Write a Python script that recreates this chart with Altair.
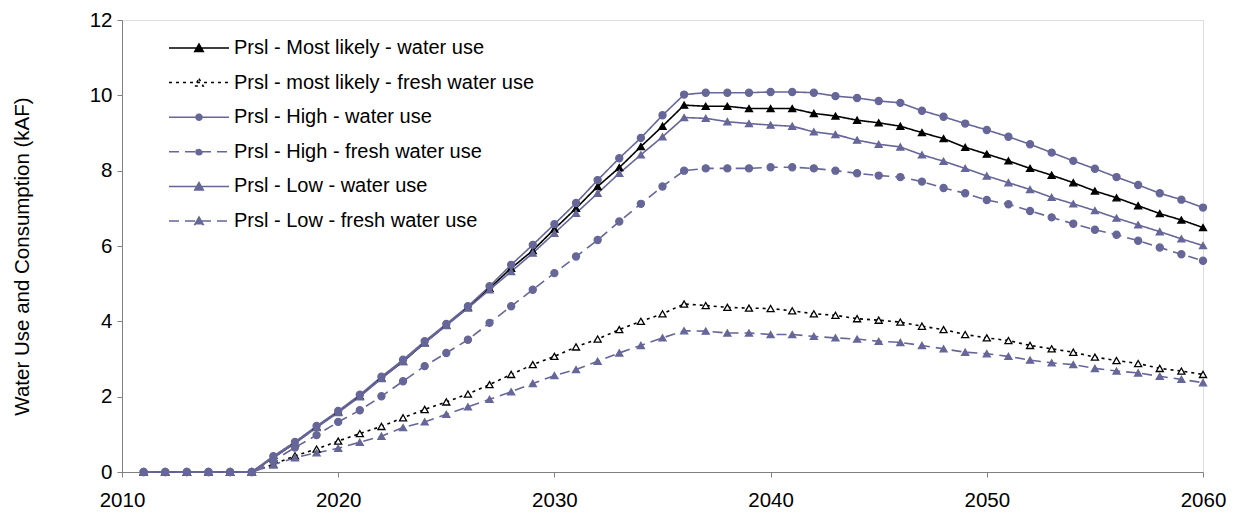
import altair as alt
import pandas as pd

years = list(range(2011, 2061))

series_names = [
    "Prsl - Most likely - water use",
    "Prsl - most likely - fresh water use",
    "Prsl - High - water use",
    "Prsl - High - fresh water use",
    "Prsl - Low - water use",
    "Prsl - Low - fresh water use",
]

ml_water = [0, 0, 0, 0, 0, 0,
            0.38, 0.77, 1.20, 1.60, 2.02, 2.50, 2.93, 3.43, 3.90, 4.37,
            4.88, 5.41, 5.88, 6.45, 7.00, 7.58, 8.08, 8.64, 9.18, 9.74,
            9.71, 9.71, 9.65, 9.65, 9.65, 9.52, 9.45, 9.34, 9.27, 9.18,
            9.01, 8.85, 8.62, 8.44, 8.26, 8.06, 7.88, 7.68, 7.46, 7.28,
            7.07, 6.86, 6.69, 6.49]
ml_fresh = [0, 0, 0, 0, 0, 0,
            0.20, 0.43, 0.61, 0.82, 1.02, 1.21, 1.44, 1.66, 1.86, 2.07,
            2.32, 2.59, 2.85, 3.07, 3.32, 3.53, 3.78, 4.00, 4.20, 4.46,
            4.42, 4.37, 4.35, 4.34, 4.28, 4.20, 4.16, 4.07, 4.03, 3.98,
            3.87, 3.78, 3.65, 3.56, 3.49, 3.36, 3.27, 3.18, 3.05, 2.96,
            2.88, 2.75, 2.68, 2.59]
high_water = [0, 0, 0, 0, 0, 0,
              0.42, 0.80, 1.22, 1.62, 2.05, 2.53, 2.98, 3.47, 3.93, 4.40,
              4.93, 5.50, 6.03, 6.58, 7.14, 7.75, 8.33, 8.87, 9.47, 10.02,
              10.07, 10.07, 10.07, 10.09, 10.09, 10.07, 9.98, 9.93, 9.85, 9.80,
              9.59, 9.43, 9.25, 9.08, 8.90, 8.70, 8.48, 8.26, 8.05, 7.83,
              7.62, 7.40, 7.23, 7.02]
high_fresh = [0, 0, 0, 0, 0, 0,
              0.30, 0.65, 0.98, 1.33, 1.64, 2.01, 2.41, 2.81, 3.16, 3.51,
              3.96, 4.40, 4.84, 5.28, 5.72, 6.16, 6.65, 7.12, 7.58, 8.00,
              8.06, 8.06, 8.06, 8.09, 8.09, 8.06, 8.00, 7.93, 7.87, 7.83,
              7.71, 7.54, 7.40, 7.22, 7.11, 6.93, 6.76, 6.59, 6.43, 6.30,
              6.14, 5.96, 5.78, 5.61]
low_water = [0, 0, 0, 0, 0, 0,
             0.38, 0.76, 1.18, 1.58, 2.00, 2.48, 2.94, 3.43, 3.89, 4.35,
             4.84, 5.32, 5.81, 6.34, 6.87, 7.40, 7.93, 8.42, 8.90, 9.41,
             9.39, 9.30, 9.25, 9.21, 9.18, 9.03, 8.96, 8.81, 8.70, 8.63,
             8.42, 8.25, 8.06, 7.86, 7.68, 7.50, 7.29, 7.12, 6.94, 6.74,
             6.56, 6.38, 6.19, 6.01]
low_fresh = [0, 0, 0, 0, 0, 0,
             0.19, 0.38, 0.51, 0.63, 0.79, 0.95, 1.18, 1.33, 1.53, 1.73,
             1.93, 2.13, 2.35, 2.56, 2.72, 2.94, 3.16, 3.36, 3.56, 3.75,
             3.74, 3.69, 3.69, 3.65, 3.65, 3.60, 3.56, 3.53, 3.47, 3.44,
             3.36, 3.27, 3.18, 3.14, 3.07, 2.97, 2.90, 2.85, 2.75, 2.68,
             2.63, 2.54, 2.46, 2.37]

x_ticks = [2010, 2020, 2030, 2040, 2050, 2060]
y_ticks = [0, 2, 4, 6, 8, 10, 12]

PURPLE = "#666699"
stroke_range = ["#000000", "#000000", PURPLE, PURPLE, PURPLE, PURPLE]
fill_range = ["#000000", "#ffffff", PURPLE, PURPLE, PURPLE, PURPLE]
dash_range = [[1, 0], [3, 4], [1, 0], [10, 6], [1, 0], [10, 6]]
shape_range = ["triangle-up", "triangle-up", "circle", "circle", "triangle-up", "triangle-up"]

TRI = "M-6,0H6M0,-0.8L0.85,0.7L-0.85,0.7Z"
CIR = "M-6,0H6M-0.6,0A0.6,0.6,0,1,0,0.6,0A0.6,0.6,0,1,0,-0.6,0Z"
legend_shapes = [TRI, TRI, CIR, CIR, TRI, TRI]

all_values = [ml_water, ml_fresh, high_water, high_fresh, low_water, low_fresh]
rows = []
for name, vals in zip(series_names, all_values):
    for yr, v in zip(years, vals):
        rows.append({"year": yr, "value": v, "series": name})
df = pd.DataFrame(rows)

FONT = "Liberation Sans"

x_enc = alt.X("year:Q",
              scale=alt.Scale(domain=[2010, 2060], nice=False, zero=False),
              axis=alt.Axis(values=x_ticks, format="d", title=None, grid=False,
                            labelFlush=False, tickSize=5, labelPadding=13,
                            labelFontSize=20.5, labelFont=FONT, labelColor="#000000",
                            domainColor="#808080", tickColor="#808080"))
y_enc = alt.Y("value:Q",
              scale=alt.Scale(domain=[0, 12], nice=False),
              axis=alt.Axis(values=y_ticks, title="Water Use and Consumption (kAF)",
                            grid=False, tickSize=5, labelPadding=5,
                            labelFontSize=20.5, labelFont=FONT, labelColor="#000000",
                            titleFontSize=20.5, titleFont=FONT, titleFontWeight="normal",
                            titleColor="#000000", titleX=-100, titleY=236,
                            titleBaseline="middle",
                            domainColor="#808080", tickColor="#808080"))

dom = series_names

lines = alt.Chart(df).mark_line(strokeWidth=1.6).encode(
    x=x_enc, y=y_enc,
    stroke=alt.Stroke("series:N", scale=alt.Scale(domain=dom, range=stroke_range), legend=None),
    strokeDash=alt.StrokeDash("series:N", scale=alt.Scale(domain=dom, range=dash_range), legend=None),
    detail="series:N",
)

points = alt.Chart(df).mark_point(filled=True, opacity=1, strokeWidth=1.3, size=50).encode(
    x=x_enc, y=y_enc,
    stroke=alt.Stroke("series:N", scale=alt.Scale(domain=dom, range=stroke_range), legend=None),
    fill=alt.Fill("series:N", scale=alt.Scale(domain=dom, range=fill_range), legend=None),
    shape=alt.Shape("series:N", scale=alt.Scale(domain=dom, range=shape_range), legend=None),
)

leg = alt.Legend(title=None, orient="none", legendX=37, legendY=18,
                 symbolSize=100, symbolStrokeWidth=1.5, labelFontSize=20,
                 labelFont=FONT, labelColor="#000000", labelOffset=25,
                 symbolOffset=30, rowPadding=14.6, labelLimit=400)

legend_layer = alt.Chart(df).transform_filter("false").mark_point(
    filled=True, opacity=1, strokeWidth=1.5).encode(
    x=x_enc, y=y_enc,
    stroke=alt.Stroke("series:N", scale=alt.Scale(domain=dom, range=stroke_range), legend=leg),
    fill=alt.Fill("series:N", scale=alt.Scale(domain=dom, range=fill_range), legend=leg),
    strokeDash=alt.StrokeDash("series:N", scale=alt.Scale(domain=dom, range=dash_range), legend=leg),
    shape=alt.Shape("series:N", scale=alt.Scale(domain=dom, range=legend_shapes), legend=leg),
)

chart = alt.layer(lines, points, legend_layer).resolve_scale(
    stroke="independent", fill="independent", strokeDash="independent", shape="independent"
).properties(
    width=1081, height=452,
    autosize=alt.AutoSizeParams(type="none"),
    padding={"left": 114, "top": 12, "right": 26, "bottom": 39},
).configure_view(stroke=None).configure(background="#ffffff")

chart.save("out.html", embed_options={"renderer": "svg", "actions": False})
